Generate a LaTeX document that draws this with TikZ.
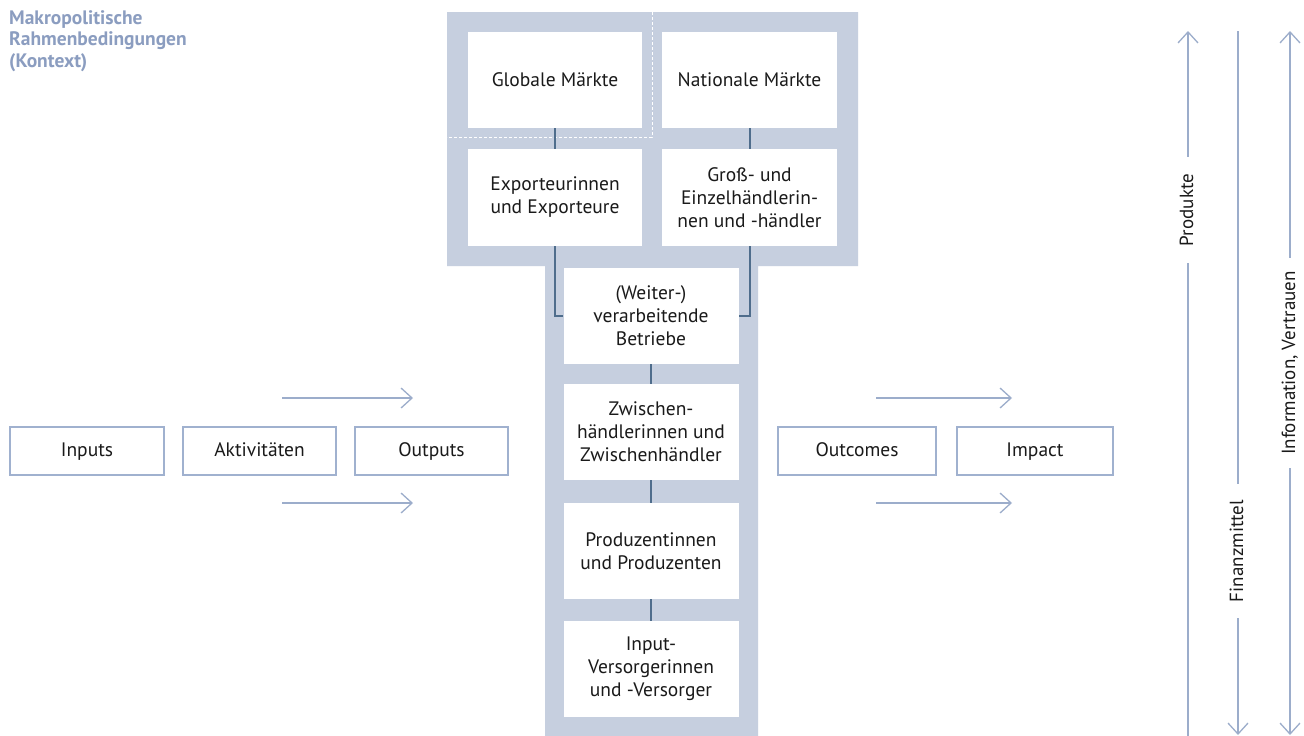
\documentclass[tikz,border=0pt]{standalone}
\usepackage{fontspec}
\setmainfont{PT Sans}
\usetikzlibrary{arrows.meta}
\definecolor{tgray}{HTML}{C6CFDF}
\definecolor{boxline}{HTML}{A0B1CF}
\definecolor{arrcol}{HTML}{9CADCB}
\definecolor{conn}{HTML}{4F6D8C}
\definecolor{titlecol}{HTML}{8B9DC0}
\definecolor{txt}{HTML}{1A1A1A}
\tikzset{
  chainbox/.style={fill=white, draw=none, minimum width=174pt, minimum height=96pt, inner sep=0pt, align=center, text=txt, font=\fontsize{19.5}{23}\selectfont},
  flowbox/.style={fill=white, draw=boxline, line width=1.5pt, minimum height=48pt, inner sep=0pt, text height=14pt, text depth=4pt, align=center, text=txt, font=\fontsize{19.5}{23}\selectfont},
  link/.style={draw=conn, line width=2pt},
  flowarrow/.style={draw=arrcol, line width=1.3pt, -{Straight Barb[length=11pt,width=20pt,line width=1.3pt]}},
  sidelabel/.style={fill=white, rotate=90, text=txt, inner ysep=2pt, text height=14pt, text depth=4pt, font=\fontsize{19}{23}\selectfont},
}
\begin{document}
\begin{tikzpicture}[x=1pt,y=-1pt]
\useasboundingbox (0,0) rectangle (1304,736);
\fill[white] (0,0) rectangle (1304,736);
% T-shaped background
\fill[tgray] (447,12) -- (858,12) -- (858,266) -- (758,266) -- (758,736) -- (545,736) -- (545,266) -- (447,266) -- cycle;
\draw[white, line width=1pt, dash pattern=on 3pt off 2pt] (652,12) -- (652,137) -- (447,137);
% title
\node[anchor=north west, align=left, text=titlecol, inner sep=0pt, font=\bfseries\fontsize{19.5}{21.5}\selectfont] (title) at (9,10) {Makropolitische\\Rahmenbedingungen\\(Kontext)};
% chain boxes
\node[chainbox] (glob) at (555,80) {Globale Märkte};
\node[chainbox, minimum width=175pt] (nat) at (749.5,80) {Nationale Märkte};
\node[chainbox, minimum height=97pt] (exp) at (555,197.5) {Exporteurinnen\\und Exporteure};
\node[chainbox, minimum width=175pt, minimum height=97pt] (gross) at (749.5,197.5) {Groß- und\\Einzelhändlerin-\\nen und -händler};
\node[chainbox, minimum width=175pt] (weiter) at (651,316) {(Weiter-)\\verarbeitende\\Betriebe};
\node[chainbox, minimum width=175pt] (zw) at (651,432) {Zwischen-\\händlerinnen und\\Zwischenhändler};
\node[chainbox, minimum width=175pt] (prod) at (651,551) {Produzentinnen\\und Produzenten};
\node[chainbox, minimum width=175pt] (inpv) at (651,669) {Input-\\Versorgerinnen\\und -Versorger};
% links
\draw[link] (glob) -- (exp);
\draw[link] (nat) -- (gross);
\draw[link] (exp.south) |- (weiter.west);
\draw[link] (gross.south) |- (weiter.east);
\draw[link] (weiter) -- (zw);
\draw[link] (zw) -- (prod);
\draw[link] (prod) -- (inpv);
% flow boxes
\node[flowbox, minimum width=154pt] (inputs) at (87,451) {Inputs};
\node[flowbox, minimum width=153pt] (akt) at (259.5,451) {Aktivitäten};
\node[flowbox, minimum width=153pt] (outputs) at (431.5,451) {Outputs};
\node[flowbox, minimum width=158pt] (outcomes) at (857,451) {Outcomes};
\node[flowbox, minimum width=156pt] (impact) at (1035,451) {Impact};
% flow arrows
\coordinate (la1) at (282,398); \coordinate (lb1) at (413,398);
\coordinate (la2) at (282,503); \coordinate (lb2) at (413,503);
\coordinate (ra1) at (876,398); \coordinate (rb1) at (1012,398);
\coordinate (ra2) at (876,503); \coordinate (rb2) at (1012,503);
\draw[flowarrow] (la1) -- (lb1);
\draw[flowarrow] (la2) -- (lb2);
\draw[flowarrow] (ra1) -- (rb1);
\draw[flowarrow] (ra2) -- (rb2);
% vertical flows
\coordinate (pt) at (1188,31); \coordinate (pb) at (1188,736);
\coordinate (ft) at (1238,31); \coordinate (fb) at (1238,735);
\coordinate (it) at (1290,31); \coordinate (ib) at (1290,735);
\draw[flowarrow] (pb) -- (pt);
\draw[flowarrow] (ft) -- (fb);
\draw[flowarrow, {Straight Barb[length=11pt,width=20pt,line width=1.3pt]}-{Straight Barb[length=11pt,width=20pt,line width=1.3pt]}] (ib) -- (it);
\node[sidelabel, inner xsep=17pt] (produkte) at (1188,210) {Produkte};
\node[sidelabel, inner xsep=16pt] (finanz) at (1238,551) {Finanzmittel};
\node[sidelabel, inner xsep=13pt] (info) at (1290,363) {Information, Vertrauen};
\end{tikzpicture}
\end{document}
